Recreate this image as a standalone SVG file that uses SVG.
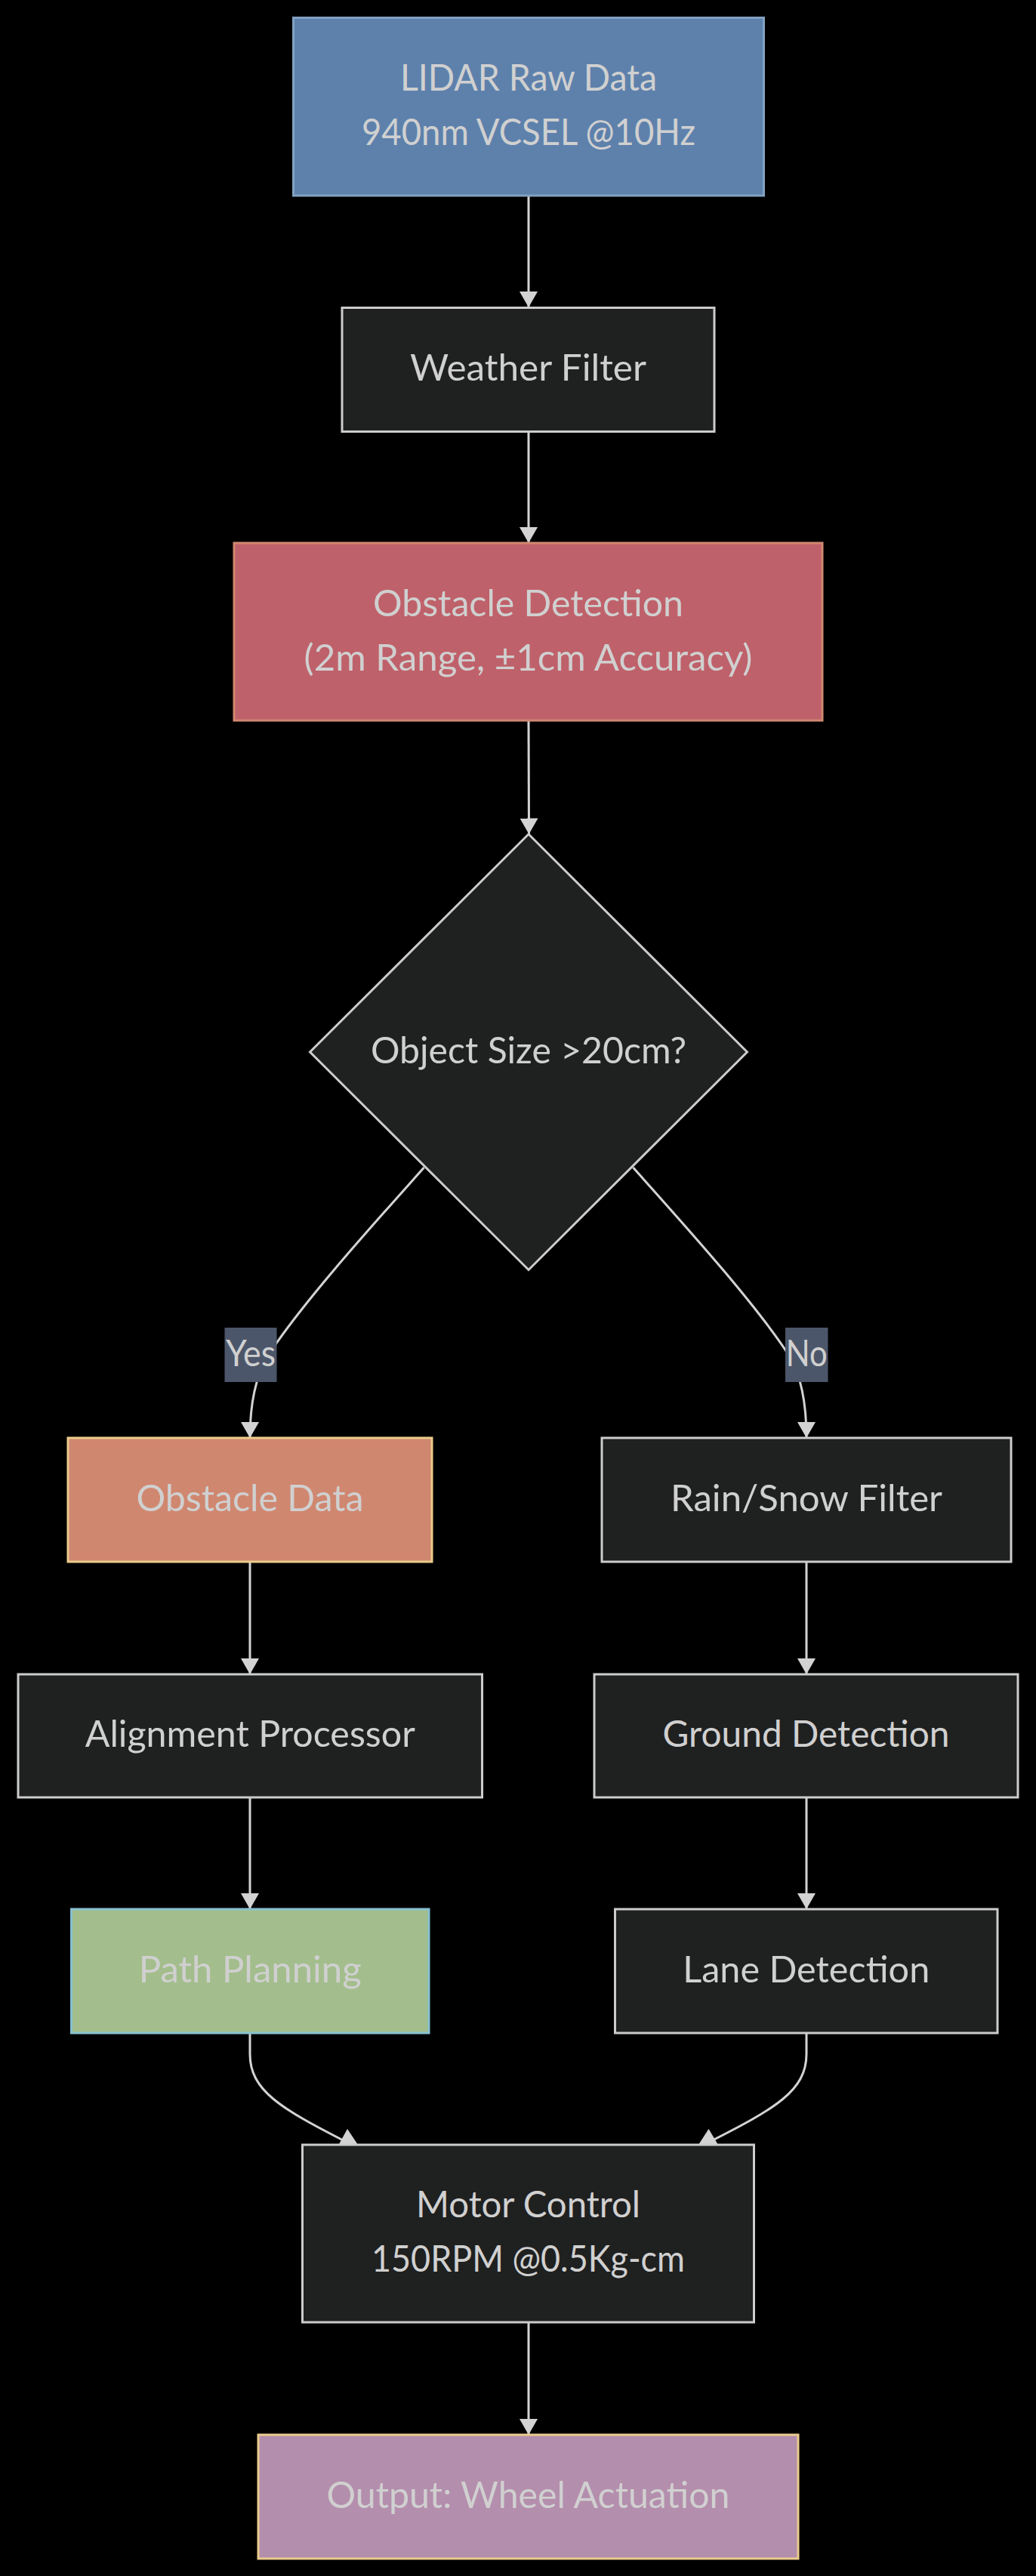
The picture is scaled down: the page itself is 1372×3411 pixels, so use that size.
<svg xmlns="http://www.w3.org/2000/svg" width="1372" height="3411" viewBox="0 0 1372 3411">
<defs>
<style>
.node rect,.node polygon{fill:#1f2020;stroke:#cccccc;stroke-width:3}
.lbl{font-family:Lato,"Liberation Sans","DejaVu Sans",sans-serif;font-size:48px;fill:#d0d0d0;text-anchor:middle}
.edge{fill:none;stroke:#d3d3d3;stroke-width:3}
.head{fill:#d3d3d3}
.elbl{fill:#4c566a}
</style>
<marker id="arr" markerUnits="userSpaceOnUse" markerWidth="22" markerHeight="24" refX="21" refY="12" orient="auto">
<path d="M0,0 L21,12 L0,24 z" fill="#d3d3d3"/>
</marker>
</defs>
<rect x="0" y="0" width="1372" height="3411" fill="#000000"/>

<g id="connectors">
<path class="edge" d="M700,259 L700,407" marker-end="url(#arr)"/>
<path class="edge" d="M700,571.5 L700,719" marker-end="url(#arr)"/>
<path class="edge" d="M700,954 L700.5,1104.5" marker-end="url(#arr)"/>
<path class="edge" d="M561.5,1546 C500,1615 400,1725 355,1795 C343,1815 331,1850 331,1904" marker-end="url(#arr)"/>
<path class="edge" d="M838.5,1546 C900,1615 1000,1725 1045,1795 C1057,1815 1068,1850 1068,1904" marker-end="url(#arr)"/>
<path class="edge" d="M331,2068 L331,2217" marker-end="url(#arr)"/>
<path class="edge" d="M1068,2068 L1068,2217" marker-end="url(#arr)"/>
<path class="edge" d="M331,2380 L331,2528" marker-end="url(#arr)"/>
<path class="edge" d="M1068,2380 L1068,2528" marker-end="url(#arr)"/>
<path class="edge" d="M331,2692 L331,2720 C331,2768 372,2792 458,2836"/>
<polygon class="head" points="460,2819 448.5,2840 474,2840"/>
<path class="edge" d="M1068,2692 L1068,2720 C1068,2768 1027,2792 940,2836"/>
<polygon class="head" points="938.5,2819 925,2840 951,2840"/>
<path class="edge" d="M700,3075 L700,3224" marker-end="url(#arr)"/>
<g id="label-yes">
<rect class="elbl" x="297.5" y="1758" width="69" height="72"/>
<text class="lbl" x="332" y="1808.5" textLength="66" lengthAdjust="spacingAndGlyphs">Yes</text>
</g>
<g id="label-no">
<rect class="elbl" x="1040" y="1758" width="56.5" height="72"/>
<text class="lbl" x="1068.25" y="1808.5" textLength="55" lengthAdjust="spacingAndGlyphs">No</text>
</g>
</g>

<g id="lidar" class="node">
<rect x="388.5" y="23.5" width="623" height="235.5" style="fill:#5e81ac;stroke:#81a1c1"/>
<text class="lbl" x="700" y="119.5" textLength="340" lengthAdjust="spacingAndGlyphs">LIDAR Raw Data</text>
<text class="lbl" x="700" y="191.5" textLength="442" lengthAdjust="spacingAndGlyphs">940nm VCSEL @10Hz</text>
</g>

<g id="weather" class="node">
<rect x="453" y="407.5" width="493" height="164"/>
<text class="lbl" x="699.5" y="504" textLength="313" lengthAdjust="spacingAndGlyphs">Weather Filter</text>
</g>

<g id="obstacle-detection" class="node">
<rect x="310" y="719" width="779" height="235" style="fill:#bf616a;stroke:#d08770"/>
<text class="lbl" x="699.5" y="815.5" textLength="411" lengthAdjust="spacingAndGlyphs">Obstacle Detection</text>
<text class="lbl" x="699.5" y="887.5" textLength="594" lengthAdjust="spacingAndGlyphs">(2m Range, ±1cm Accuracy)</text>
</g>

<g id="decision" class="node">
<polygon points="700,1104.5 989.5,1393 700,1681.5 410.5,1393"/>
<text class="lbl" x="700" y="1407.5" textLength="418" lengthAdjust="spacingAndGlyphs">Object Size &gt;20cm?</text>
</g>

<g id="obstacle-data" class="node">
<rect x="90" y="1904" width="482" height="164" style="fill:#d08770;stroke:#ebcb8b"/>
<text class="lbl" x="331" y="2000.5" textLength="301" lengthAdjust="spacingAndGlyphs">Obstacle Data</text>
</g>

<g id="rain-snow" class="node">
<rect x="797" y="1904" width="542" height="164"/>
<text class="lbl" x="1068" y="2000.5" textLength="360" lengthAdjust="spacingAndGlyphs">Rain/Snow Filter</text>
</g>

<g id="alignment" class="node">
<rect x="24" y="2217" width="614.5" height="163"/>
<text class="lbl" x="331.25" y="2313" textLength="437" lengthAdjust="spacingAndGlyphs">Alignment Processor</text>
</g>

<g id="ground" class="node">
<rect x="787" y="2217" width="561" height="163"/>
<text class="lbl" x="1067.5" y="2313" textLength="380" lengthAdjust="spacingAndGlyphs">Ground Detection</text>
</g>

<g id="path-planning" class="node">
<rect x="94.5" y="2528" width="473.5" height="164" style="fill:#a3be8c;stroke:#88c0d0"/>
<text class="lbl" x="331.25" y="2624.5" textLength="295" lengthAdjust="spacingAndGlyphs">Path Planning</text>
</g>

<g id="lane" class="node">
<rect x="814.5" y="2528" width="506.5" height="164"/>
<text class="lbl" x="1067.75" y="2624.5" textLength="327" lengthAdjust="spacingAndGlyphs">Lane Detection</text>
</g>

<g id="motor" class="node">
<rect x="400.5" y="2840" width="598" height="235"/>
<text class="lbl" x="699.5" y="2936" textLength="297" lengthAdjust="spacingAndGlyphs">Motor Control</text>
<text class="lbl" x="699.5" y="3008" textLength="415" lengthAdjust="spacingAndGlyphs">150RPM @0.5Kg-cm</text>
</g>

<g id="output" class="node">
<rect x="342" y="3224" width="715" height="164" style="fill:#b48ead;stroke:#ebcb8b"/>
<text class="lbl" x="699.5" y="3320.5" textLength="534" lengthAdjust="spacingAndGlyphs">Output: Wheel Actuation</text>
</g>
</svg>
